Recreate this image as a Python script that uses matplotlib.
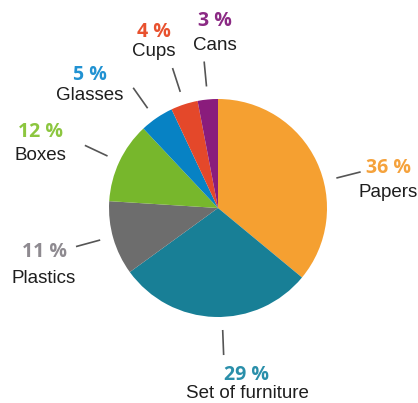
import numpy as np
import matplotlib.pyplot as plt

labels = ["Papers", "Set of furniture", "Plastics", "Boxes", "Glasses", "Cups", "Cans"]
values = [36, 29, 11, 12, 5, 4, 3]
colors = ["#F5A031", "#187F96", "#6D6D6D", "#77B72C", "#0782C4", "#E4482A", "#8A1C7C"]
pct_colors = ["#F5A23C", "#2A8FAA", "#8E8A90", "#8CC63F", "#2192D2", "#E8512E", "#8B2A84"]

# layout (pixels, image coords with y down)
W, H = 418, 403
cx, cy, R = 218, 208, 109
# text anchors: (x center, baseline of percent, baseline of name)
txt_pos = [(388, 173, 197), (247, 380, 398), (44, 257, 283), (40, 137, 160),
           (90, 80, 100), (154, 37, 56), (215, 26, 50)]
ang_off = [-11, 4, -1, 0, 1, 0, 0]

fig = plt.figure(figsize=(W / 100, H / 100), dpi=100)
ax = fig.add_axes([0, 0, 1, 1])

wedges, _ = ax.pie(values, colors=colors, startangle=90, counterclock=False,
                   radius=R, center=(cx, H - cy),
                   wedgeprops=dict(linewidth=0))
# pie() sets its own limits for radius 1, so set the pixel frame afterwards
ax.set_xlim(0, W)
ax.set_ylim(0, H)
ax.set_aspect("equal")
ax.axis("off")

for i, w in enumerate(wedges):
    mid = np.deg2rad((w.theta1 + w.theta2) / 2 + ang_off[i])
    r1, r2 = R * 1.12, R * 1.35
    ax.plot([cx + r1 * np.cos(mid), cx + r2 * np.cos(mid)],
            [H - cy + r1 * np.sin(mid), H - cy + r2 * np.sin(mid)],
            color="#555555", lw=1.2, solid_capstyle="butt")
    x, yp, yn = txt_pos[i]
    ax.text(x, H - yp, f"{values[i]} %", color=pct_colors[i], fontsize=14,
            fontweight="bold", family="Open Sans", ha="center", va="baseline")
    ax.text(x, H - yn, labels[i], color="#1e1e1e", fontsize=13.5,
            family="Liberation Sans", ha="center", va="baseline")

fig.savefig("out.png", dpi=100)
